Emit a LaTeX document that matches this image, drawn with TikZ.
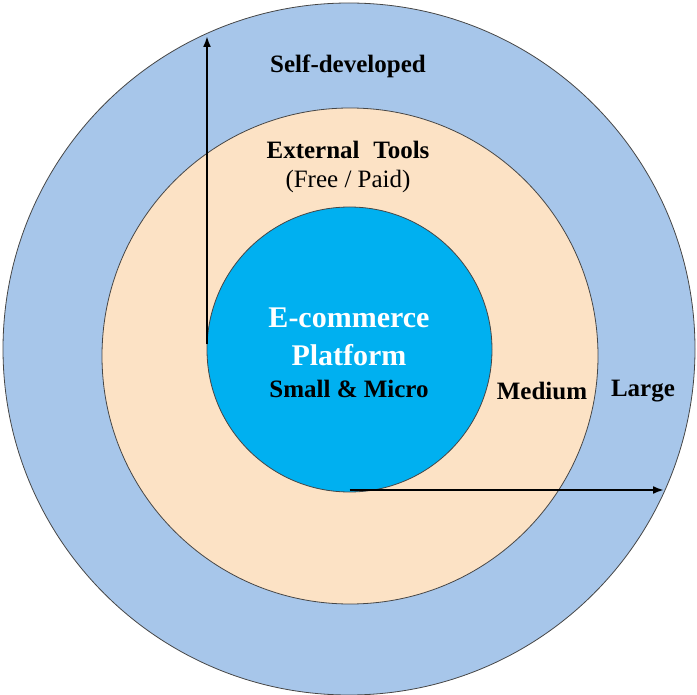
\documentclass[tikz,border=0pt]{standalone}
\usepackage{fontspec}
\setmainfont{Liberation Serif}
\usetikzlibrary{arrows.meta}
\definecolor{outerblue}{RGB}{167,198,234}
\definecolor{peach}{RGB}{252,226,197}
\definecolor{core}{RGB}{0,176,240}
\definecolor{rim}{RGB}{70,70,70}
\tikzset{
  ring/.style={circle, draw=rim, line width=0.8pt, inner sep=0pt},
  lbl/.style={font=\fontsize{25}{29}\selectfont\bfseries, text=black, inner sep=0pt},
  axis/.style={line width=2pt, -{Latex[length=11pt,width=8pt]}}
}
\begin{document}
\begin{tikzpicture}[x=1pt,y=-1pt]
\useasboundingbox (0,0) rectangle (697,695);
\node[ring, fill=outerblue, minimum size=692pt] (outer) at (349,349) {};
\node[ring, fill=peach, minimum size=496pt] (middle) at (350,356) {};
\node[ring, fill=core, minimum size=285pt] (inner) at (349.5,349.5) {};
\node[lbl] (self) at (348,66) {Self-developed};
\node[lbl] (ext) at (348,150) {External\hspace{0.3em} Tools};
\node[lbl, font=\fontsize{25}{29}\selectfont] (free) at (348,181) {(Free / Paid)};
\node[lbl, text=white, font=\fontsize{30}{34}\selectfont\bfseries] (ecom) at (349,318) {E-commerce};
\node[lbl, text=white, font=\fontsize{30}{34}\selectfont\bfseries] (plat) at (349,355) {Platform};
\node[lbl] (small) at (349,389) {Small \& Micro};
\node[lbl] (med) at (542,391) {Medium};
\node[lbl] (large) at (643,391) {Large};
\coordinate (vstart) at (207,344);
\coordinate (vend) at (207,36);
\coordinate (hend) at (664,490);
\coordinate (hstart) at (inner.south |- hend);
\draw[axis] (vstart) -- (vend);
\draw[axis] (hstart) -- (hend);
\end{tikzpicture}
\end{document}
